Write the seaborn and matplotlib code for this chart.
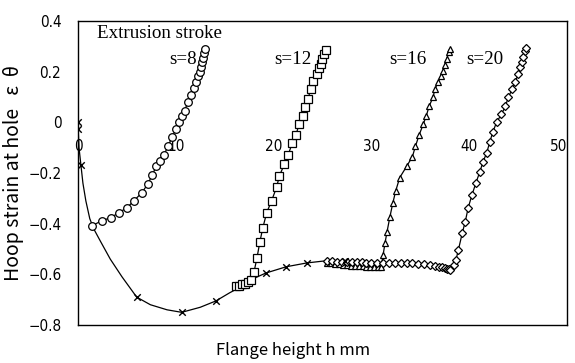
import numpy as np
import pandas as pd
import matplotlib
matplotlib.use("Agg")
import matplotlib.pyplot as plt
import seaborn as sns

# main loading path (line) and its cross markers
path_x = [0, 0.02, 0.1, 0.3, 0.5, 0.8, 1.2, 1.6, 2.3, 3.3, 4.5, 6.0, 7.4, 9.1, 10.6,
          12.5, 14.1, 15.5, 17.1, 18.1, 19.2, 21.3, 23.4, 25.0, 27.3, 29.0, 31.0]
path_y = [0, -0.03, -0.10, -0.17, -0.24, -0.31, -0.38, -0.42, -0.47, -0.54, -0.61,
          -0.69, -0.72, -0.74, -0.75, -0.73, -0.705, -0.673, -0.64, -0.614, -0.595,
          -0.57, -0.555, -0.548, -0.547, -0.55, -0.555]
cross_x = [0, 0, 0.3, 6.0, 10.6, 14.1, 19.2, 21.3, 23.4, 27.3]
cross_y = [0, -0.025, -0.17, -0.69, -0.75, -0.705, -0.595, -0.57, -0.555, -0.547]

# s=8 (circles)
s8_x = [1.43, 2.45, 3.37, 4.19, 5.01, 5.73, 6.54, 7.16, 7.6, 8.0, 8.4, 8.8, 9.2, 9.6,
        10.0, 10.3, 10.6, 10.9, 11.2, 11.6, 11.9, 12.1, 12.3, 12.5, 12.6, 12.7, 12.8,
        12.9, 13.0]
s8_y = [-0.408, -0.388, -0.376, -0.356, -0.337, -0.309, -0.277, -0.242, -0.206, -0.174,
        -0.154, -0.127, -0.095, -0.059, -0.028, 0.0, 0.024, 0.044, 0.079, 0.11, 0.135,
        0.158, 0.182, 0.2, 0.22, 0.238, 0.255, 0.272, 0.289]

# s=12 (squares)
s12_x = [16.2, 16.5, 16.8, 17.1, 17.4, 17.7, 18.0, 18.3, 18.6, 18.9, 19.3, 19.8, 20.3,
         20.6, 21.1, 21.5, 21.9, 22.3, 22.6, 23.0, 23.2, 23.5, 23.8, 24.0, 24.4, 24.6,
         24.8, 25.0, 25.2, 25.4]
s12_y = [-0.648, -0.645, -0.64, -0.638, -0.632, -0.622, -0.59, -0.535, -0.471, -0.416,
         -0.356, -0.309, -0.257, -0.21, -0.166, -0.127, -0.083, -0.048, -0.008, 0.024,
         0.059, 0.091, 0.131, 0.162, 0.19, 0.214, 0.23, 0.25, 0.269, 0.285]

# s=16 (triangles)
s16_x = [25.5, 25.9, 26.3, 26.7, 27.1, 27.5, 27.9, 28.3, 28.7, 29.1, 29.5, 29.9, 30.3,
         30.7, 31.0, 31.2, 31.4, 31.6, 31.9, 32.2, 32.5, 32.9, 33.6, 34.2, 34.5, 34.9,
         35.3, 35.6, 35.9, 36.3, 36.5, 36.8, 37.1, 37.3, 37.5, 37.7, 37.9, 38.0]
s16_y = [-0.555, -0.557, -0.559, -0.561, -0.563, -0.565, -0.566, -0.567, -0.568, -0.569,
         -0.57, -0.571, -0.572, -0.572, -0.57, -0.523, -0.475, -0.432, -0.372, -0.317,
         -0.269, -0.218, -0.174, -0.135, -0.095, -0.048, -0.008, 0.024, 0.063, 0.099,
         0.131, 0.158, 0.182, 0.202, 0.226, 0.25, 0.277, 0.289]

# s=20 (diamonds)
s20_x = [25.5, 26.0, 26.5, 27.0, 27.5, 28.0, 28.5, 29.0, 29.5, 30.0, 30.6, 31.2, 31.8,
         32.4, 33.0, 33.6, 34.2, 34.8, 35.4, 36.0, 36.5, 36.9, 37.2, 37.5, 37.7, 37.9,
         38.0, 38.5, 38.65, 38.9, 39.3, 39.6, 39.9, 40.3, 40.7, 41.1, 41.4, 41.8, 42.1,
         42.4, 42.8, 43.3, 43.7, 44.0, 44.4, 44.7, 45.0, 45.2, 45.4, 45.5, 45.7, 45.8]
s20_y = [-0.548, -0.549, -0.55, -0.551, -0.552, -0.552, -0.553, -0.553, -0.554, -0.554,
         -0.554, -0.554, -0.554, -0.554, -0.555, -0.556, -0.557, -0.559, -0.561, -0.564,
         -0.567, -0.57, -0.573, -0.576, -0.578, -0.58, -0.582, -0.562, -0.543, -0.503,
         -0.436, -0.392, -0.337, -0.285, -0.238, -0.194, -0.158, -0.119, -0.079, -0.04,
         0.0, 0.032, 0.063, 0.099, 0.131, 0.158, 0.19, 0.218, 0.238, 0.257, 0.281, 0.293]

x_ticks = [0, 10, 20, 30, 40, 50]
y_ticks = [0.4, 0.2, 0, -0.2, -0.4, -0.6, -0.8]
y_ticklabels = ["0.4", "0.2", "0", "\u22120.2", "\u22120.4", "\u22120.6", "\u22120.8"]
stroke_labels = ["s=8", "s=12", "s=16", "s=20"]
stroke_label_x = [12.2, 23.9, 35.7, 43.5]

sns.set_theme(style="white")
plt.rcParams["font.family"] = ["DejaVu Sans"]
plt.rcParams["font.stretch"] = "condensed"

fig = plt.figure(figsize=(5.75, 3.63), dpi=100)
ax = fig.add_axes([0.1357, 0.1047, 0.8503, 0.8373])

line_kw = dict(color="black", lw=0.9, estimator=None, sort=False, ax=ax)
mark_kw = dict(markerfacecolor="white", markeredgecolor="black", markeredgewidth=0.9)

sns.lineplot(x=path_x, y=path_y, **line_kw)
sns.scatterplot(x=cross_x, y=cross_y, marker="x", color="black", s=22,
                linewidth=1.0, ax=ax, zorder=5)
sns.lineplot(x=s8_x, y=s8_y, marker="o", markersize=5.5, **mark_kw, **line_kw)
sns.lineplot(x=s12_x, y=s12_y, marker="s", markersize=5.5, **mark_kw, **line_kw)
sns.lineplot(x=s16_x, y=s16_y, marker="^", markersize=5, **mark_kw, **line_kw)
sns.lineplot(x=s20_x, y=s20_y, marker="D", markersize=4.5, **mark_kw, **line_kw)

ax.set_xlim(0, 50)
ax.set_ylim(-0.8, 0.4)

# frame
for sp in ax.spines.values():
    sp.set_visible(True)
    sp.set_color("black")
    sp.set_linewidth(1.0)

ax.set_yticks(y_ticks)
ax.set_yticklabels(y_ticklabels)
ax.tick_params(axis="y", length=0, pad=12, labelsize=11, labelcolor="black")
ax.set_xticks([])

# x tick labels sit below the y=0 line, inside the frame
sec = ax.secondary_xaxis(2 / 3)
sec.xaxis.tick_bottom()
sec.set_xticks(x_ticks)
sec.set_xticklabels([str(v) for v in x_ticks])
for sp in sec.spines.values():
    sp.set_visible(False)
sec.tick_params(axis="x", length=0, pad=12, labelsize=11, labelcolor="black",
                labelbottom=True, labeltop=False)
sec.get_xticklabels()[-1].set_ha("right")

serif = ["Liberation Serif", "DejaVu Serif"]
ax.text(1.95, 0.352, "Extrusion stroke", family=serif, fontsize=13.7,
        ha="left", va="center", color="black")
for lab, lx in zip(stroke_labels, stroke_label_x):
    ax.text(lx, 0.25, lab, family=serif, fontsize=13.7, ha="right", va="center",
            color="black")

label_font = ["Noto Sans CJK JP", "DejaVu Sans"]
ax.set_xlabel("Flange height h mm", family=label_font, fontsize=12, color="black")
ax.xaxis.set_label_coords(0.44, -0.055)
ax.set_ylabel("Hoop strain at hole   \u03b5  \u03b8", family=label_font, fontsize=14,
              color="black")
ax.yaxis.set_label_coords(-0.11, 0.5)

fig.savefig("out.png", dpi=100, facecolor="white")
